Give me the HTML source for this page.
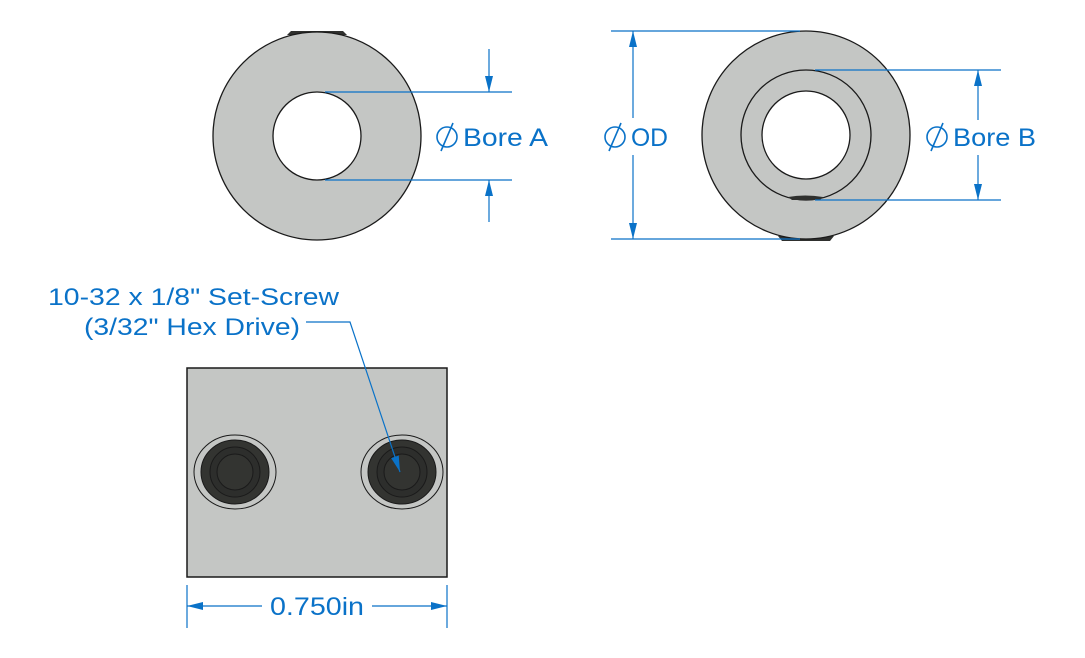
<!DOCTYPE html>
<html><head><meta charset="utf-8"><style>
html,body{margin:0;padding:0;background:#fff;}
svg{display:block;}
text{font-family:"Liberation Sans",sans-serif;fill:#0a72c8;}
</style></head><body>
<svg width="1085" height="658" viewBox="0 0 1085 658" xmlns="http://www.w3.org/2000/svg">
<defs>
<marker id="ar" viewBox="0 0 16 10" refX="16" refY="5" markerWidth="16" markerHeight="10" markerUnits="userSpaceOnUse" orient="auto">
<path d="M0,1 L16,5 L0,9 Z" fill="#0a72c8"/></marker>
<g id="dia" fill="none" stroke="#0a72c8" stroke-width="1.6">
<circle cx="0" cy="0" r="10"/><line x1="-6" y1="14" x2="6" y2="-14"/>
</g>
</defs>
<!-- Left ring -->
<path d="M287,35 L291,31 L343,31 L347,35 Z" fill="#2f302e"/>
<circle cx="317" cy="136" r="104" fill="#c4c6c4" stroke="#1a1a1a" stroke-width="1.3"/>
<circle cx="317" cy="136" r="44" fill="#fff" stroke="#1a1a1a" stroke-width="1.3"/>
<g stroke="#0a72c8" stroke-width="1.2" fill="none">
<line x1="325" y1="92" x2="512" y2="92"/>
<line x1="325" y1="180" x2="512" y2="180"/>
<line x1="489" y1="49" x2="489" y2="92" marker-end="url(#ar)"/>
<line x1="489" y1="222" x2="489" y2="180" marker-end="url(#ar)"/>
</g>
<use href="#dia" x="447" y="137"/>
<text x="463" y="146" font-size="25" textLength="85" lengthAdjust="spacingAndGlyphs">Bore A</text>
<!-- Right ring -->
<path d="M778,236 L782,241 L830,241 L834,236 Z" fill="#2f302e"/>
<circle cx="806" cy="135" r="104" fill="#c4c6c4" stroke="#1a1a1a" stroke-width="1.3"/>
<circle cx="806" cy="135" r="65" fill="#c4c6c4" stroke="#1a1a1a" stroke-width="1.3"/>
<circle cx="806" cy="135" r="44" fill="#fff" stroke="#1a1a1a" stroke-width="1.3"/>
<path d="M788,197 Q805,194 823,197 L820,200 L792,200 Z" fill="#2f302e"/>
<g stroke="#0a72c8" stroke-width="1.2" fill="none">
<line x1="611" y1="31" x2="800" y2="31"/>
<line x1="611" y1="239" x2="800" y2="239"/>
<line x1="633" y1="118" x2="633" y2="31" marker-end="url(#ar)"/>
<line x1="633" y1="155" x2="633" y2="239" marker-end="url(#ar)"/>
<line x1="815" y1="70" x2="1001" y2="70"/>
<line x1="815" y1="200" x2="1001" y2="200"/>
<line x1="978" y1="120" x2="978" y2="70" marker-end="url(#ar)"/>
<line x1="978" y1="155" x2="978" y2="200" marker-end="url(#ar)"/>
</g>
<use href="#dia" x="615" y="137"/>
<text x="631" y="146" font-size="25" textLength="37" lengthAdjust="spacingAndGlyphs">OD</text>
<use href="#dia" x="937" y="137"/>
<text x="953" y="146" font-size="25" textLength="83" lengthAdjust="spacingAndGlyphs">Bore B</text>
<!-- Side view -->
<rect x="187" y="368" width="260" height="209" fill="#c4c6c4" stroke="#1a1a1a" stroke-width="1.5"/>
<g stroke="#1a1a1a" stroke-width="1">
<ellipse cx="235" cy="472" rx="41" ry="37" fill="none"/>
<ellipse cx="235" cy="472" rx="34" ry="32" fill="#333431"/>
<circle cx="235" cy="472" r="25" fill="#2d2e2c"/>
<circle cx="235" cy="472" r="18" fill="#333431"/>
<ellipse cx="402" cy="472" rx="41" ry="37" fill="none"/>
<ellipse cx="402" cy="472" rx="34" ry="32" fill="#333431"/>
<circle cx="402" cy="472" r="25" fill="#2d2e2c"/>
<circle cx="402" cy="472" r="18" fill="#333431"/>
</g>
<text x="48" y="305" font-size="24" textLength="291" lengthAdjust="spacingAndGlyphs">10-32 x 1/8" Set-Screw</text>
<text x="84" y="335" font-size="24" textLength="216" lengthAdjust="spacingAndGlyphs">(3/32" Hex Drive)</text>
<polyline points="306,322 350,322 400,472" fill="none" stroke="#0a72c8" stroke-width="1.2" marker-end="url(#ar)"/>
<g stroke="#0a72c8" stroke-width="1.2" fill="none">
<line x1="187" y1="585" x2="187" y2="628"/>
<line x1="447" y1="585" x2="447" y2="628"/>
<line x1="262" y1="606" x2="187" y2="606" marker-end="url(#ar)"/>
<line x1="372" y1="606" x2="447" y2="606" marker-end="url(#ar)"/>
</g>
<text x="270" y="615" font-size="25" textLength="94" lengthAdjust="spacingAndGlyphs">0.750in</text>
</svg>
</body></html>
